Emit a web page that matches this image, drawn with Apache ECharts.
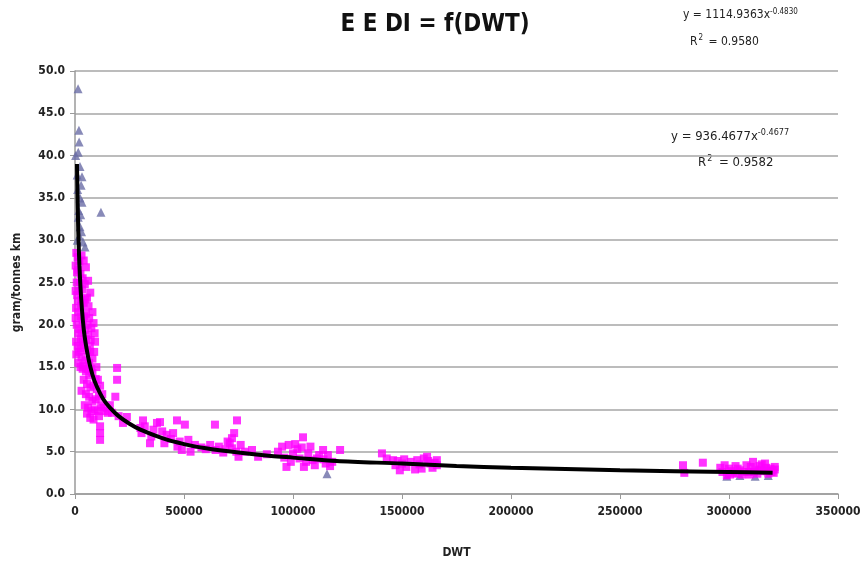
<!DOCTYPE html>
<html>
<head>
<meta charset="utf-8">
<title>EEDI = f(DWT)</title>
<script src="https://cdn.jsdelivr.net/npm/echarts@6/dist/echarts.min.js"></script>
<style>
  html, body { margin: 0; padding: 0; background: #fff; }
  #chart { width: 861px; height: 562px; }
</style>
</head>
<body>
<div id="chart"></div>
<script>
// triangles (blue-grey series)
const triPoints = [
  [1400, 47.9], [1800, 43.0], [1900, 41.6], [1500, 40.4], [300, 40.0], [2300, 38.7],
  [1000, 37.7], [3200, 37.5], [1200, 36.0], [2800, 36.5], [2300, 35.0], [3200, 34.5],
  [1700, 33.5], [2600, 33.0], [11900, 33.3], [1500, 32.7], [2300, 31.6], [3000, 31.0],
  [2000, 30.5], [1000, 30.0], [3700, 29.8], [4600, 29.2],
  [115600, 2.4], [299000, 2.1], [305000, 2.2], [312000, 2.1], [318000, 2.2]
]

// magenta squares
const sqPoints = [
  [600, 28.5], [1200, 28.0], [2000, 27.5], [3000, 28.2], [4000, 27.6], [1500, 26.5],
  [2500, 26.0], [3500, 25.5], [5000, 26.8], [800, 25.0], [4500, 24.8], [6000, 25.2],
  [1000, 23.5], [2000, 24.0], [3000, 23.0], [4000, 22.6], [5500, 23.2], [7000, 23.8],
  [500, 22.0], [1500, 21.5], [2500, 21.0], [3500, 20.5], [5000, 21.3], [6500, 20.8],
  [8000, 21.5], [800, 20.0], [2000, 19.5], [3000, 19.0], [4500, 19.4], [6000, 18.8],
  [7500, 19.6], [8500, 20.2], [9000, 19.0], [9200, 18.0], [500, 18.0], [1200, 17.5],
  [2500, 17.2], [4000, 17.6], [5500, 17.0], [7000, 16.8], [600, 16.5], [1800, 16.8],
  [3000, 16.2], [4800, 15.8], [6500, 15.5], [8000, 16.0],
  [300, 27.0], [900, 26.2], [2200, 25.0], [3300, 24.2], [4800, 23.0], [6200, 22.2],
  [300, 24.0], [1300, 22.8], [2800, 22.2], [4200, 21.0], [5800, 20.0], [7200, 18.2],
  [300, 20.8], [1400, 19.0], [2600, 18.3], [3600, 18.0], [5000, 18.3], [6800, 17.5],
  [8800, 16.8], [1500, 15.5], [3800, 15.2], [5800, 14.8], [7500, 14.8], [9800, 15.0],
  [2500, 15.0], [3500, 14.8], [5000, 14.5], [6500, 14.0], [8000, 14.3], [9500, 13.6],
  [4000, 13.5], [5500, 13.0], [7000, 12.6], [8500, 12.8], [10000, 12.4], [3000, 12.2],
  [5000, 11.8], [6500, 11.5], [8000, 11.0], [9500, 11.2], [11000, 11.5], [4500, 10.5],
  [6000, 10.2], [7500, 9.8], [9000, 10.0], [10500, 9.8], [12000, 10.5], [5500, 9.5],
  [7000, 9.0], [8500, 8.8], [11000, 9.2], [11500, 8.0], [11500, 7.2], [11500, 6.4],
  [10500, 13.5], [11500, 12.8], [12500, 11.8], [13000, 10.2], [14000, 9.8],
  [19300, 14.9], [19300, 13.5], [18500, 11.5], [16000, 10.5], [15000, 9.6], [17000, 9.6],
  [20000, 9.2], [23800, 9.1], [22000, 8.4], [31200, 8.7], [30000, 7.8], [30500, 7.2],
  [34400, 6.0], [35000, 6.8], [37600, 8.4], [39000, 8.5], [40000, 7.4], [42000, 7.0],
  [44000, 6.5], [46800, 8.7], [45000, 7.2], [48000, 6.2], [50400, 8.2], [49000, 5.2],
  [52000, 6.4], [55000, 5.8], [58000, 5.5], [60000, 5.3], [64200, 8.2], [64500, 5.2],
  [66000, 5.6], [68000, 4.9], [70000, 6.2], [72000, 6.6], [73000, 7.2], [74300, 8.7],
  [72000, 5.4], [71000, 6.0], [75000, 4.4], [76000, 5.8], [78000, 5.0], [81200, 5.2],
  [84000, 4.4], [88000, 4.7], [93100, 5.0], [95000, 5.6], [97000, 3.2], [98000, 5.8],
  [100000, 4.8], [102000, 5.3], [104600, 6.7], [103000, 4.2], [105000, 3.2], [107000, 4.8],
  [109000, 4.0], [110000, 3.4], [112000, 4.6], [113800, 5.2], [115000, 3.6], [116000, 4.6],
  [118000, 3.8], [121600, 5.2],
  [32000, 8.0], [36000, 7.6], [41000, 6.0], [47000, 5.6], [53000, 5.0], [62000, 5.8],
  [69000, 5.3], [74000, 5.0], [96000, 4.3], [99000, 3.8], [101000, 5.9], [104000, 5.5],
  [106000, 3.8], [108000, 5.6], [111000, 4.2], [114000, 4.1], [117000, 3.3],
  [140800, 4.8], [143000, 4.2], [145900, 4.0], [147000, 3.4], [149000, 2.8], [150000, 3.6],
  [152000, 3.2], [154000, 3.8], [156000, 2.9], [158000, 3.5], [160000, 4.2], [161500, 4.4],
  [163000, 3.6], [164000, 3.1], [166000, 3.4], [166000, 4.0], [151000, 4.1], [157000, 4.0],
  [159000, 3.0], [162000, 3.9], [165000, 3.7], [148000, 3.9],
  [278900, 3.4], [279500, 2.5], [288000, 3.7], [296000, 3.1], [297000, 2.6], [299000, 2.2],
  [300000, 3.0], [302000, 2.5], [303000, 3.3], [305000, 2.8], [306000, 2.3], [308000, 3.4],
  [309000, 2.6], [311000, 3.8], [312000, 2.9], [313000, 2.4], [314000, 3.3], [315000, 3.5],
  [316000, 2.7], [317000, 3.1], [318000, 2.4], [319000, 3.0], [320000, 2.8], [320500, 2.5],
  [321000, 3.2], [298000, 3.4], [301000, 2.7], [304000, 3.0], [307000, 2.6], [310000, 3.2],
  [313500, 2.8], [316500, 3.6], [319500, 2.6], [321000, 2.9], [300500, 2.3], [309500, 2.3],
  [303500, 2.4], [311500, 2.6], [317500, 2.7]
]

// power trend line
const trendPoints = [
  [900, 39.0], [1500, 31.0], [2500, 24.5], [4000, 19.5], [6000, 16.2], [8000, 14.1],
  [10000, 12.7], [13000, 11.2], [16000, 10.2], [20000, 9.2], [25000, 8.3], [30000, 7.6],
  [40000, 6.6], [50000, 5.9], [60000, 5.4], [75000, 4.9], [90000, 4.5], [100000, 4.3],
  [120000, 3.9], [150000, 3.6], [175000, 3.3], [200000, 3.1], [250000, 2.8], [300000, 2.6],
  [320000, 2.5]
]

const font = "'DejaVu Sans Condensed', 'Open Sans', sans-serif"

const chart = echarts.init(document.getElementById('chart'))
chart.setOption({
  animation: false,
  title: {
    text: 'E E DI = f(DWT)',
    left: 430,
    top: 8,
    textAlign: 'center',
    textStyle: { fontSize: 24, fontWeight: 'bold', color: '#111', fontFamily: font }
  },
  grid: { left: 75, right: 23, top: 71, bottom: 68, outerBoundsMode: 'none' },
  xAxis: {
    type: 'value',
    min: 0,
    max: 350000,
    interval: 50000,
    name: 'DWT',
    nameLocation: 'middle',
    nameGap: 53,
    nameTextStyle: { fontSize: 12, fontWeight: 'bold', color: '#222', fontFamily: font },
    axisLine: { show: true, lineStyle: { color: '#9a9a9a', width: 1.5 } },
    axisTick: { show: true, length: 5, lineStyle: { color: '#9a9a9a' } },
    axisLabel: {
      fontSize: 12, fontWeight: 'bold', color: '#222', margin: 12, fontFamily: font,
      formatter: v => String(v)
    },
    splitLine: { show: false }
  },
  yAxis: {
    type: 'value',
    min: 0,
    max: 50,
    interval: 5,
    name: 'gram/tonnes km',
    nameLocation: 'middle',
    nameGap: 52,
    nameTextStyle: { fontSize: 12, fontWeight: 'bold', color: '#222', fontFamily: font },
    axisLine: { show: true, lineStyle: { color: '#9a9a9a', width: 1.5 } },
    axisTick: { show: true, length: 5, lineStyle: { color: '#9a9a9a' } },
    axisLabel: {
      fontSize: 12, fontWeight: 'bold', color: '#222', margin: 10, fontFamily: font,
      formatter: v => v.toFixed(1)
    },
    splitLine: { show: true, lineStyle: { color: '#a6a6a6', width: 1.5 } }
  },
  series: [
    {
      type: 'scatter',
      data: triPoints,
      symbol: 'triangle',
      symbolSize: 9,
      itemStyle: { color: '#6a6da6' },
      z: 2
    },
    {
      type: 'scatter',
      data: sqPoints,
      symbol: 'rect',
      symbolSize: 8,
      itemStyle: { color: '#ff00ff' },
      z: 3
    },
    {
      type: 'line',
      data: trendPoints,
      smooth: 0.3,
      showSymbol: false,
      lineStyle: { color: '#000', width: 4 },
      z: 4
    }
  ],
  graphic: [
    {
      type: 'text', x: 683, y: 8,
      style: {
        text: '{m|y = 1114.9363x}{s|-0.4830}',
        rich: {
          m: { fontSize: 12, fill: '#222', fontFamily: font },
          s: { fontSize: 8, fill: '#222', fontFamily: font, verticalAlign: 'top', padding: [0, 0, 6, 0] }
        }
      }
    },
    {
      type: 'text', x: 690, y: 34,
      style: {
        text: '{m|R}{s|2}{m| = 0.9580}',
        rich: {
          m: { fontSize: 12, fill: '#222', fontFamily: font },
          s: { fontSize: 8, fill: '#222', fontFamily: font, padding: [0, 2, 8, 1] }
        }
      }
    },
    {
      type: 'text', x: 671, y: 128,
      style: {
        text: '{m|y = 936.4677x}{s|-0.4677}',
        rich: {
          m: { fontSize: 13, fill: '#222', fontFamily: font },
          s: { fontSize: 9, fill: '#222', fontFamily: font, padding: [0, 0, 8, 0] }
        }
      }
    },
    {
      type: 'text', x: 698, y: 154,
      style: {
        text: '{m|R}{s|2}{m| = 0.9582}',
        rich: {
          m: { fontSize: 13, fill: '#222', fontFamily: font },
          s: { fontSize: 9, fill: '#222', fontFamily: font, padding: [0, 3, 9, 1] }
        }
      }
    }
  ]
})
</script>
</body>
</html>
